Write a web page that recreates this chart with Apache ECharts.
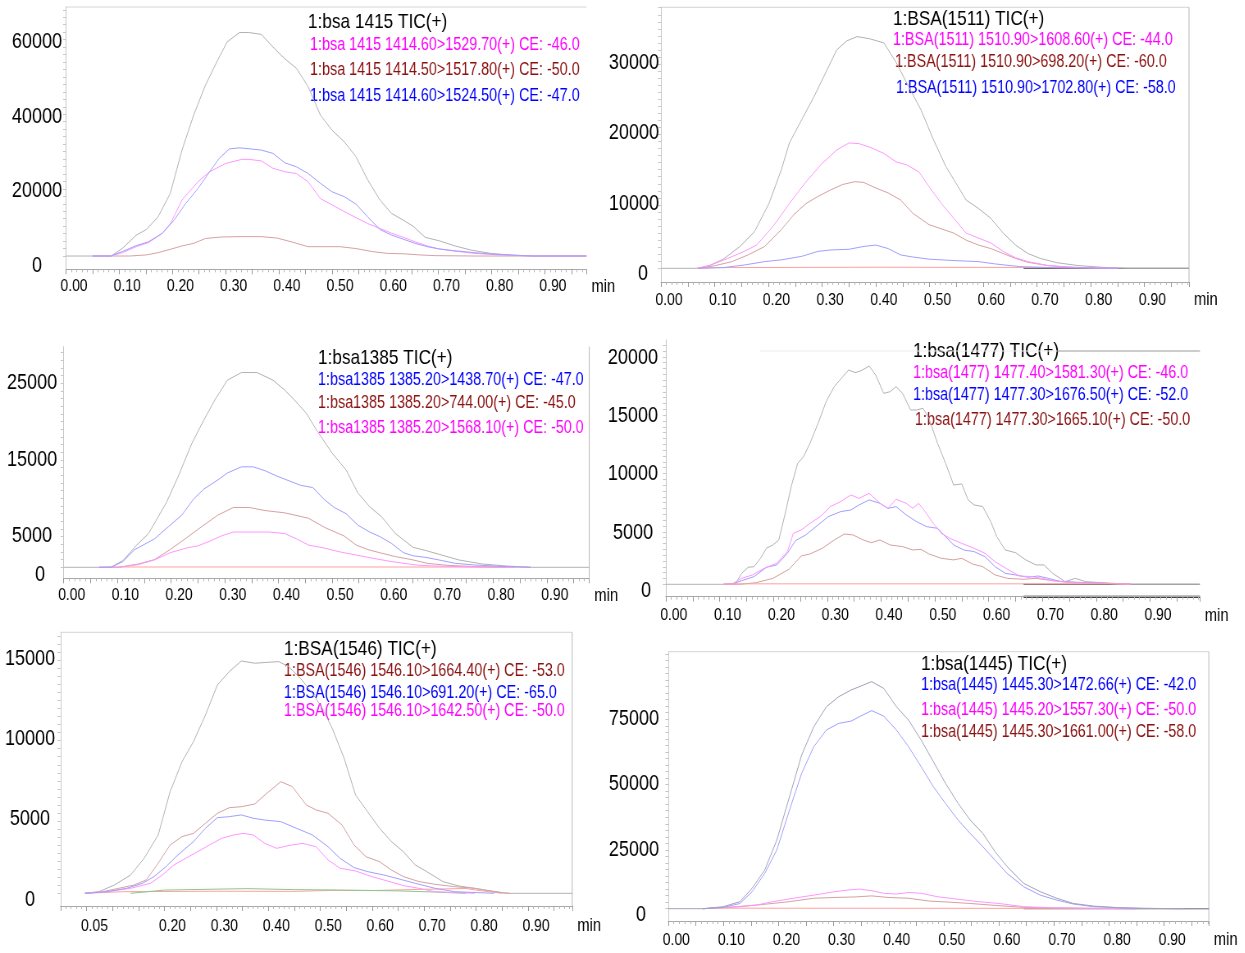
<!DOCTYPE html>
<html>
<head>
<meta charset="utf-8">
<title>BSA peptide MRM chromatograms</title>
<script src="https://cdn.jsdelivr.net/npm/echarts@6/dist/echarts.min.js"></script>
<style>
  html, body { margin: 0; padding: 0; background: #ffffff; overflow: hidden; }
  /* the chart is laid out wide and condensed horizontally, giving narrow instrument-style lettering */
  #chart { height: 953px; transform-origin: 0 0; }
</style>
</head>
<body>
<div id="chart"></div>
<script>
// ---------- tick labels ----------
const tenthLabels = [0, 0.1, 0.2, 0.3, 0.4, 0.5, 0.6, 0.7, 0.8, 0.9];
const bsa1546XLabels = [0.05, 0.2, 0.3, 0.4, 0.5, 0.6, 0.7, 0.8, 0.9];
const bsa1415YLabels = [0, 20000, 40000, 60000];
const bsa1511YLabels = [0, 10000, 20000, 30000];
const bsa1385YLabels = [0, 5000, 15000, 25000];
const bsa1477YLabels = [0, 5000, 10000, 15000, 20000];
const bsa1546YLabels = [0, 5000, 10000, 15000];
const bsa1445YLabels = [0, 25000, 50000, 75000];

// ---------- 1:bsa 1415 ----------
const bsa1415Legend = ['1:bsa 1415 TIC(+)', '1:bsa 1415 1414.60>1529.70(+) CE: -46.0', '1:bsa 1415 1414.50>1517.80(+) CE: -50.0', '1:bsa 1415 1414.60>1524.50(+) CE: -47.0'];
const bsa1415Tic = [[0,0],[0.05,0],[0.085,0],[0.106,2050],[0.132,5600],[0.151,7100],[0.173,10500],[0.196,16800],[0.218,28400],[0.240,37800],[0.262,45800],[0.285,52500],[0.303,57400],[0.326,59900],[0.344,59900],[0.367,59400],[0.389,56000],[0.411,52900],[0.433,50300],[0.455,45400],[0.478,37800],[0.500,33700],[0.523,30600],[0.545,26600],[0.567,20400],[0.590,15000],[0.612,11400],[0.634,9600],[0.653,7900],[0.675,5000],[0.701,4100],[0.731,2700],[0.761,1600],[0.798,700],[0.842,200],[0.88,0],[0.978,0]];
const bsa1415Mz1529 = [[0.05,0],[0.084,0],[0.106,900],[0.132,2500],[0.155,3600],[0.181,6100],[0.196,8600],[0.218,15000],[0.248,19900],[0.270,22600],[0.300,24800],[0.330,25900],[0.344,25900],[0.367,25500],[0.389,23500],[0.411,22600],[0.433,22100],[0.455,19900],[0.478,15400],[0.500,13700],[0.523,11900],[0.545,10300],[0.567,8700],[0.590,7400],[0.612,6100],[0.634,5000],[0.656,3800],[0.679,2700],[0.701,1900],[0.731,1300],[0.768,700],[0.813,300],[0.88,0],[0.978,0]];
const bsa1415Mz1517 = [[0.05,0],[0.12,0],[0.151,300],[0.173,900],[0.196,1800],[0.218,2700],[0.240,3400],[0.262,4700],[0.292,5100],[0.329,5200],[0.367,5200],[0.397,4800],[0.426,3700],[0.455,2500],[0.485,2500],[0.515,2500],[0.545,2000],[0.575,1200],[0.604,700],[0.634,600],[0.664,300],[0.694,100],[0.77,0],[0.978,0]];
const bsa1415Mz1524 = [[0.05,0],[0.084,0],[0.106,1200],[0.132,2800],[0.155,3800],[0.181,6100],[0.203,9600],[0.225,14100],[0.248,18100],[0.270,22600],[0.288,26200],[0.307,28700],[0.326,29000],[0.367,28400],[0.389,27500],[0.411,25000],[0.433,23900],[0.455,22100],[0.478,19500],[0.500,17200],[0.523,15900],[0.545,13900],[0.567,10500],[0.590,7100],[0.612,5600],[0.634,4500],[0.656,3400],[0.679,2500],[0.701,1900],[0.731,1400],[0.768,900],[0.813,400],[0.88,0],[0.978,0]];

// ---------- 1:BSA(1511) ----------
const bsa1511Legend = ['1:BSA(1511) TIC(+)', '1:BSA(1511) 1510.90>1608.60(+) CE: -44.0', '1:BSA(1511) 1510.90>698.20(+) CE: -60.0', '1:BSA(1511) 1510.90>1702.80(+) CE: -58.0'];
const bsa1511Tic = [[0,0],[0.067,0],[0.086,240],[0.116,1300],[0.147,3100],[0.174,5200],[0.201,9200],[0.224,14000],[0.239,17800],[0.262,21100],[0.285,24400],[0.308,28000],[0.327,31000],[0.346,32300],[0.365,32900],[0.388,32600],[0.415,32000],[0.438,29200],[0.461,25800],[0.484,22500],[0.507,18300],[0.530,14500],[0.553,11600],[0.568,9700],[0.591,8500],[0.614,7100],[0.637,5000],[0.660,3300],[0.683,2100],[0.706,1400],[0.737,800],[0.775,400],[0.821,140],[0.867,0],[0.983,0]];
const bsa1511Mz1608 = [[0.067,0],[0.093,470],[0.124,1400],[0.155,2400],[0.178,3300],[0.208,5900],[0.239,9200],[0.270,12300],[0.300,14900],[0.327,16800],[0.350,17800],[0.369,17700],[0.392,17100],[0.415,16300],[0.438,15100],[0.457,14700],[0.480,13700],[0.499,11600],[0.522,9200],[0.545,7100],[0.568,5000],[0.591,4300],[0.614,3600],[0.637,2400],[0.660,1500],[0.683,950],[0.721,380],[0.767,140],[0.851,0]];
const bsa1511Mz698 = [[0.070,0],[0.101,380],[0.132,950],[0.162,1900],[0.193,3100],[0.224,5500],[0.247,7600],[0.270,9200],[0.292,10200],[0.315,11100],[0.338,11900],[0.361,12300],[0.377,12200],[0.400,11400],[0.423,10700],[0.446,9700],[0.469,7800],[0.499,6200],[0.522,5600],[0.545,5000],[0.568,4000],[0.591,3300],[0.614,2800],[0.637,2100],[0.660,1400],[0.683,850],[0.721,380],[0.767,140],[0.851,0]];
const bsa1511Mz1702 = [[0.070,0],[0.116,100],[0.155,470],[0.193,950],[0.224,1200],[0.262,1700],[0.292,2400],[0.315,2600],[0.350,2700],[0.377,3100],[0.400,3300],[0.423,2800],[0.446,1900],[0.469,1600],[0.499,1300],[0.545,1100],[0.591,950],[0.622,620],[0.668,240],[0.729,100],[0.851,0]];
const bsa1511Other = [[0.067,0],[0.1,100],[0.4,150],[0.7,120],[0.8,60],[0.85,0]];
const bsa1511Tail = [[0.675,0],[0.983,0]];

// ---------- 1:bsa1385 ----------
const bsa1385Legend = ['1:bsa1385 TIC(+)', '1:bsa1385 1385.20>1438.70(+) CE: -47.0', '1:bsa1385 1385.20>744.00(+) CE: -45.0', '1:bsa1385 1385.20>1568.10(+) CE: -50.0'];
const bsa1385Tic = [[0,0],[0.066,0],[0.088,0],[0.110,870],[0.136,2900],[0.158,4400],[0.172,6100],[0.191,8400],[0.213,11800],[0.239,16200],[0.261,19200],[0.283,22000],[0.305,24400],[0.331,25400],[0.360,25400],[0.390,24400],[0.412,23100],[0.430,21800],[0.452,20100],[0.471,17900],[0.500,14900],[0.526,12700],[0.548,9700],[0.570,7900],[0.592,6600],[0.618,4400],[0.651,2600],[0.674,2200],[0.699,1700],[0.736,960],[0.780,430],[0.825,170],[0.872,0],[0.979,0]];
const bsa1385Mz1438 = [[0.066,0],[0.088,0],[0.110,740],[0.132,2300],[0.169,3700],[0.195,5300],[0.220,6800],[0.242,8900],[0.261,10200],[0.283,11200],[0.305,12300],[0.331,13100],[0.353,13100],[0.375,12600],[0.397,11900],[0.419,11300],[0.441,10700],[0.464,10400],[0.486,8800],[0.504,7800],[0.526,7000],[0.548,5500],[0.570,4600],[0.589,4000],[0.611,3100],[0.633,1900],[0.651,1500],[0.674,1300],[0.699,960],[0.729,520],[0.766,300],[0.825,90],[0.87,0]];
const bsa1385Mz744 = [[0.066,0],[0.102,0],[0.139,430],[0.169,1000],[0.198,2300],[0.228,3800],[0.257,5300],[0.287,6800],[0.316,7800],[0.346,7800],[0.375,7400],[0.412,7100],[0.456,6400],[0.486,5200],[0.522,4100],[0.545,2900],[0.567,2300],[0.589,1900],[0.618,1400],[0.651,960],[0.677,520],[0.714,260],[0.766,90],[0.825,0]];
const bsa1385Mz1568 = [[0.066,0],[0.102,0],[0.139,350],[0.169,960],[0.198,1900],[0.228,2500],[0.250,2800],[0.272,3400],[0.294,4100],[0.316,4600],[0.339,4600],[0.361,4600],[0.383,4600],[0.412,4400],[0.434,3700],[0.456,2900],[0.486,2500],[0.515,2000],[0.545,1600],[0.574,1200],[0.604,830],[0.633,520],[0.662,260],[0.692,170],[0.766,40],[0.84,0]];
const bsa1385Other = [[0.066,0],[0.09,40],[0.5,40],[0.86,30],[0.87,0]];

// ---------- 1:bsa(1477) ----------
const bsa1477Legend = ['1:bsa(1477) TIC(+)', '1:bsa(1477) 1477.40>1581.30(+) CE: -46.0', '1:bsa(1477) 1477.30>1676.50(+) CE: -52.0', '1:bsa(1477) 1477.30>1665.10(+) CE: -50.0'];
const bsa1477Tic = [[0,0],[0.107,0],[0.130,90],[0.141,940],[0.153,1460],[0.164,1510],[0.176,2230],[0.187,3090],[0.199,3370],[0.210,3800],[0.222,6090],[0.233,8370],[0.245,10370],[0.256,10940],[0.268,12090],[0.283,13800],[0.298,15660],[0.313,16940],[0.329,17800],[0.340,18370],[0.352,18140],[0.363,18310],[0.378,18710],[0.390,17940],[0.405,16370],[0.417,16510],[0.428,16940],[0.440,16370],[0.455,14940],[0.466,14940],[0.478,15090],[0.489,14230],[0.505,12090],[0.520,10370],[0.535,8510],[0.550,8600],[0.562,7230],[0.573,6800],[0.589,6660],[0.604,5370],[0.615,4090],[0.631,2940],[0.650,2710],[0.669,2090],[0.688,1660],[0.703,1660],[0.719,940],[0.742,230],[0.761,510],[0.780,230],[0.810,140],[0.864,0],[0.9925,0]];
const bsa1477Mz1581 = [[0.107,0],[0.122,0],[0.141,510],[0.161,800],[0.183,1370],[0.206,1800],[0.226,2800],[0.237,4370],[0.252,4660],[0.268,5230],[0.287,5800],[0.306,6660],[0.325,7090],[0.344,7660],[0.359,7370],[0.378,7800],[0.398,6940],[0.413,6510],[0.428,7290],[0.447,6940],[0.459,6510],[0.470,6940],[0.482,6230],[0.497,5230],[0.512,4370],[0.528,3940],[0.550,3510],[0.573,3090],[0.593,2660],[0.612,1940],[0.635,1290],[0.657,710],[0.680,660],[0.700,510],[0.719,310],[0.757,140],[0.810,90],[0.864,0]];
const bsa1477Mz1676 = [[0.107,0],[0.122,0],[0.141,310],[0.164,660],[0.187,1460],[0.206,1660],[0.226,2660],[0.241,3740],[0.260,4230],[0.279,4940],[0.302,5800],[0.325,6230],[0.344,6370],[0.359,6800],[0.378,7230],[0.398,6940],[0.413,6510],[0.428,6660],[0.447,5940],[0.466,5370],[0.485,4940],[0.505,4800],[0.520,4090],[0.535,3370],[0.554,2940],[0.573,2800],[0.593,2370],[0.612,1510],[0.631,940],[0.650,800],[0.673,600],[0.692,710],[0.711,510],[0.734,230],[0.765,170],[0.810,90],[0.864,0]];
const bsa1477Mz1665 = [[0.107,0],[0.138,0],[0.168,140],[0.199,510],[0.229,1290],[0.252,2430],[0.268,2600],[0.291,3090],[0.313,3800],[0.332,4310],[0.348,4230],[0.367,3800],[0.382,3570],[0.398,3800],[0.417,3370],[0.440,3230],[0.459,2940],[0.474,3000],[0.489,2600],[0.512,2230],[0.535,2090],[0.550,2230],[0.570,1740],[0.589,1510],[0.612,800],[0.635,510],[0.665,430],[0.688,510],[0.719,310],[0.757,170],[0.810,90],[0.864,0]];
const bsa1477Other = [[0.107,0],[0.115,40],[0.5,40],[0.86,40],[0.864,0]];
const bsa1477Tail = [[0.665,0],[0.9925,0]];

// ---------- 1:BSA(1546) ----------
const bsa1546Legend = ['1:BSA(1546) TIC(+)', '1:BSA(1546) 1546.10>1664.40(+) CE: -53.0', '1:BSA(1546) 1546.10>691.20(+) CE: -65.0', '1:BSA(1546) 1546.10>1642.50(+) CE: -50.0'];
const bsa1546Tic = [[0.047,0],[0.074,100],[0.104,520],[0.135,1140],[0.161,2180],[0.188,3630],[0.211,6330],[0.234,8200],[0.256,9440],[0.279,11100],[0.302,12970],[0.325,13800],[0.348,14460],[0.374,14320],[0.401,14380],[0.420,14420],[0.439,14110],[0.462,13380],[0.485,12450],[0.504,11510],[0.523,10270],[0.546,8400],[0.568,6120],[0.591,5080],[0.614,4050],[0.637,3220],[0.660,2590],[0.683,1760],[0.705,1350],[0.736,730],[0.766,460],[0.797,310],[0.827,150],[0.858,0],[0.985,0]];
const bsa1546Mz1664 = [[0.047,0],[0.081,100],[0.112,310],[0.142,520],[0.165,830],[0.188,1870],[0.211,3010],[0.234,3530],[0.256,3730],[0.279,4360],[0.302,4980],[0.325,5330],[0.348,5390],[0.374,5560],[0.397,6220],[0.424,6950],[0.446,6640],[0.473,5500],[0.492,5190],[0.515,4980],[0.542,4250],[0.565,3010],[0.588,2280],[0.614,1970],[0.637,1450],[0.660,1040],[0.690,730],[0.721,560],[0.759,410],[0.797,310],[0.827,150],[0.850,40],[0.865,0]];
const bsa1546Mz691 = [[0.047,0],[0.089,100],[0.127,310],[0.158,620],[0.180,1040],[0.203,1660],[0.226,2390],[0.256,3220],[0.279,4050],[0.302,4710],[0.325,4770],[0.348,4880],[0.371,4670],[0.393,4560],[0.424,4460],[0.454,4050],[0.485,3630],[0.515,2900],[0.538,2180],[0.565,1600],[0.591,1350],[0.622,1140],[0.652,890],[0.683,620],[0.721,310],[0.759,100],[0.835,0]];
const bsa1546Mz1642 = [[0.047,0],[0.089,100],[0.135,310],[0.173,620],[0.196,1140],[0.218,1760],[0.241,2180],[0.264,2590],[0.287,3010],[0.310,3420],[0.333,3630],[0.352,3730],[0.371,3630],[0.393,3110],[0.416,2800],[0.439,2970],[0.466,3110],[0.492,2900],[0.515,2070],[0.538,1560],[0.568,1390],[0.599,1040],[0.629,770],[0.660,480],[0.690,310],[0.721,100],[0.797,0]];
const bsa1546OtherA = [[0.135,0],[0.2,200],[0.3,260],[0.36,290],[0.45,230],[0.55,200],[0.65,150],[0.72,80],[0.78,0]];
const bsa1546OtherB = [[0.047,0],[0.12,100],[0.3,130],[0.45,120],[0.52,180],[0.6,170],[0.7,250],[0.78,300],[0.8,200],[0.85,0]];

// ---------- 1:bsa(1445) ----------
const bsa1445Legend = ['1:bsa(1445) TIC(+)', '1:bsa(1445) 1445.30>1472.66(+) CE: -42.0', '1:bsa(1445) 1445.20>1557.30(+) CE: -50.0', '1:bsa(1445) 1445.30>1661.00(+) CE: -58.0'];
const bsa1445Tic = [[0,0],[0.063,0],[0.100,770],[0.130,2700],[0.152,7800],[0.175,14800],[0.197,26300],[0.220,42900],[0.242,58800],[0.264,69600],[0.287,77300],[0.309,81100],[0.332,83700],[0.354,85600],[0.369,86900],[0.391,84300],[0.414,77300],[0.436,72200],[0.459,64500],[0.481,56300],[0.503,48000],[0.526,40300],[0.548,33900],[0.571,28800],[0.593,21800],[0.615,16100],[0.645,9700],[0.675,6500],[0.705,4000],[0.735,2000],[0.772,1000],[0.817,380],[0.862,130],[0.937,0],[0.981,0]];
const bsa1445Mz1472 = [[0.063,0],[0.100,510],[0.130,2000],[0.152,6500],[0.175,13500],[0.197,22500],[0.220,37800],[0.242,51800],[0.264,62000],[0.287,68400],[0.309,70900],[0.332,71800],[0.347,73500],[0.369,75800],[0.391,73700],[0.414,68400],[0.436,62000],[0.459,54300],[0.481,46700],[0.503,40300],[0.526,33900],[0.548,28800],[0.571,23700],[0.593,18600],[0.615,13500],[0.645,8400],[0.675,5200],[0.705,3300],[0.735,1800],[0.772,770],[0.817,380],[0.862,130],[0.937,0]];
const bsa1445Mz1557 = [[0.063,0],[0.122,770],[0.160,1400],[0.190,2700],[0.227,4000],[0.264,5200],[0.302,6500],[0.324,7100],[0.347,7500],[0.369,6900],[0.391,5900],[0.414,5600],[0.436,6200],[0.459,5900],[0.488,4600],[0.526,3600],[0.563,2700],[0.600,2000],[0.645,770],[0.697,380],[0.772,130],[0.847,0]];
const bsa1445Mz1661 = [[0.063,0],[0.130,770],[0.175,1700],[0.220,2700],[0.264,4000],[0.302,4300],[0.339,4500],[0.369,4900],[0.399,4300],[0.436,4000],[0.474,2900],[0.511,2500],[0.548,2000],[0.585,1400],[0.645,510],[0.697,260],[0.772,130],[0.847,0]];
const bsa1445Other = [[0.063,0],[0.08,200],[0.5,150],[0.82,100],[0.85,0]];
const bsa1445Tail = [[0.645,0],[0.981,0]];

// ---------- styles ----------
const CONDENSE = 0.82;                 // horizontal squeeze applied to the whole drawing
const PAGE_W = 1245, PAGE_H = 953;
const ux = v => v / CONDENSE;          // page x -> chart x before the squeeze
const FONT = "'Liberation Sans', Arial, sans-serif";
const INK = { black: '#000000', magenta: '#ff00ff', brown: '#8b1010', blue: '#0000ff' };
const TRACE = { tic: '#b2b2b2', ticDark: '#a2a2b8', magenta: '#ff96ff', brown: '#d6a2a2', blue: '#a0a0ff',
                red: '#ffa0a0', green: '#8cc88c', tail: '#6a6a6a' };

// ---------- panel layout (page pixels) ----------
const panels = [
  {
    legend: bsa1415Legend, ink: ['black', 'magenta', 'brown', 'blue'],
    legendX: [308, 310, 310, 310], legendY: [22, 45, 70, 96],
    traces: [[bsa1415Tic, 'tic'], [bsa1415Mz1517, 'brown'], [bsa1415Mz1529, 'magenta'], [bsa1415Mz1524, 'blue']],
    yLabels: bsa1415YLabels, xLabels: tenthLabels, yTickStep: 2000,
    box: { left: 66, top: 7, width: 520.4, height: 262.3 }, xMax: 0.978, yMin: -3560, yMax: 66740,
    yLabelX: 37, zeroNudge: 0, yDrop: 9.7, xDrop: 8.5, frame: ['top']
  },
  {
    legend: bsa1511Legend, ink: ['black', 'magenta', 'brown', 'blue'],
    legendX: [893, 893, 895, 896], legendY: [19, 40, 62, 88],
    traces: [[bsa1511Other, 'red'], [bsa1511Tic, 'tic'], [bsa1511Mz698, 'brown'], [bsa1511Mz1608, 'magenta'], [bsa1511Mz1702, 'blue'], [bsa1511Tail, 'tail']],
    yLabels: bsa1511YLabels, xLabels: tenthLabels, yTickStep: 1000,
    box: { left: 661, top: 7.3, width: 528, height: 274.7 }, xMax: 0.983, yMin: -1945, yMax: 37060,
    yLabelX: 634, zeroNudge: 9, yDrop: 5.6, xDrop: 9.5, frame: ['top', 'right']
  },
  {
    legend: bsa1385Legend, ink: ['black', 'blue', 'brown', 'magenta'],
    legendX: [318, 318, 318, 318], legendY: [358, 380, 403, 428],
    traces: [[bsa1385Other, 'red'], [bsa1385Tic, 'tic'], [bsa1385Mz744, 'brown'], [bsa1385Mz1568, 'magenta'], [bsa1385Mz1438, 'blue']],
    yLabels: bsa1385YLabels, xLabels: tenthLabels, yTickStep: 1000,
    box: { left: 63.7, top: 346.7, width: 525.5, height: 231.6 }, xMax: 0.979, yMin: -1434, yMax: 28770,
    yLabelX: 32, zeroNudge: 8, yDrop: 7.2, xDrop: 8.5, frame: ['right']
  },
  {
    legend: bsa1477Legend, ink: ['black', 'magenta', 'blue', 'brown'],
    legendX: [913, 913, 913, 915], legendY: [351, 373, 395, 420],
    traces: [[bsa1477Tic, 'tic'], [bsa1477Mz1665, 'brown'], [bsa1477Mz1676, 'blue'], [bsa1477Mz1581, 'magenta'], [bsa1477Other, 'red'], [bsa1477Tail, 'tail']],
    yLabels: bsa1477YLabels, xLabels: tenthLabels, yTickStep: 500,
    box: { left: 665.8, top: 340, width: 534, height: 256.7 }, xMax: 0.9925, yMin: -1063, yMax: 20940,
    yLabelX: 633, zeroNudge: 13, yDrop: 6.5, xDrop: 10, frame: [], darkAxisFrom: 0.665
  },
  {
    legend: bsa1546Legend, ink: ['black', 'brown', 'blue', 'magenta'],
    legendX: [284, 284, 284, 284], legendY: [649, 671, 693, 711],
    traces: [[bsa1546OtherB, 'red'], [bsa1546OtherA, 'green'], [bsa1546Tic, 'tic'], [bsa1546Mz1664, 'brown'], [bsa1546Mz1642, 'magenta'], [bsa1546Mz691, 'blue']],
    yLabels: bsa1546YLabels, xLabels: bsa1546XLabels, yTickStep: 500,
    box: { left: 60.5, top: 632.3, width: 511.7, height: 273.7 }, xMax: 0.985, yMin: -790, yMax: 16245,
    yLabelX: 30, zeroNudge: 0, yDrop: 6.4, xDrop: 11.5, frame: ['top', 'right']
  },
  {
    legend: bsa1445Legend, ink: ['black', 'blue', 'magenta', 'brown'],
    legendX: [921, 921, 921, 921], legendY: [664, 685, 710, 732],
    traces: [[bsa1445Other, 'red'], [bsa1445Mz1661, 'brown'], [bsa1445Mz1557, 'magenta'], [bsa1445Mz1472, 'blue'], [bsa1445Tic, 'ticDark'], [bsa1445Tail, 'tail']],
    yLabels: bsa1445YLabels, xLabels: tenthLabels, yTickStep: 2500,
    box: { left: 668.3, top: 651.7, width: 540.5, height: 269.3 }, xMax: 0.981, yMin: -4707, yMax: 98350,
    yLabelX: 634, zeroNudge: 7, yDrop: 6.2, xDrop: 10.5, frame: ['top', 'right']
  }
];

// ---------- build option ----------
const grid = [], xAxis = [], yAxis = [], series = [];

panels.forEach((p, i) => {
  grid.push({ left: ux(p.box.left), top: p.box.top, width: ux(p.box.width), height: p.box.height });

  xAxis.push({
    type: 'value', gridIndex: i, min: 0, max: p.xMax, interval: 0.05,
    splitLine: { show: false },
    axisLine: { show: true, onZero: false, lineStyle: { color: '#a8a8a8', width: 1 } },
    axisTick: { show: true, length: 5, lineStyle: { color: '#9a9a9a' } },
    minorTick: { show: true, splitNumber: 5, length: 3, lineStyle: { color: '#b4b4b4' } },
    axisLabel: {
      customValues: p.xLabels,
      formatter: v => v.toFixed(2),
      fontFamily: FONT, fontSize: 17, color: '#000', margin: p.xDrop,
      padding: [0, 0, 0, ux(16)]
    },
    name: 'min', nameLocation: 'end', nameGap: ux(5),
    nameTextStyle: { fontFamily: FONT, fontSize: 18, color: '#000', verticalAlign: 'top', padding: [p.xDrop, 0, 0, 0] }
  });

  const tickVals = [];
  for (let v = 0; v <= p.yMax; v += p.yTickStep) tickVals.push(v);
  yAxis.push({
    type: 'value', gridIndex: i, min: p.yMin, max: p.yMax,
    splitLine: { show: false },
    axisLine: { show: true, onZero: false, lineStyle: { color: '#c8c8c8', width: 1 } },
    axisTick: { show: true, customValues: tickVals, length: ux(3), lineStyle: { color: '#c8c8c8' } },
    axisLabel: {
      customValues: p.yLabels,
      // the zero label sits a little to the right of the column centre
      formatter: v => (v === 0 ? '{z|0}' : String(v)),
      fontFamily: FONT, fontSize: 22, color: '#000',
      align: 'center', margin: ux(p.box.left - p.yLabelX),
      // labels sit a little below their tick: top-anchored line box, glyphs centred inside it
      verticalAlign: 'top', lineHeight: p.yDrop * 2,
      rich: {
        z: {
          fontFamily: FONT, fontSize: 22, color: '#000', lineHeight: p.yDrop * 2,
          padding: [0, 0, 0, ux(2 * p.zeroNudge)]
        }
      }
    }
  });

  p.traces.forEach(([data, hue]) => {
    series.push({
      type: 'line', xAxisIndex: i, yAxisIndex: i, data: data,
      symbol: 'none', silent: true, animation: false,
      lineStyle: { color: TRACE[hue], width: hue === 'tail' ? 1.2 : 1 },
      z: hue === 'tail' ? 1 : 2
    });
  });
});

const el = document.getElementById('chart');
el.style.width = ux(PAGE_W) + 'px';
el.style.transform = 'scaleX(' + CONDENSE + ')';

const chart = echarts.init(el, null, { renderer: 'canvas', width: ux(PAGE_W), height: PAGE_H });
chart.setOption({
  backgroundColor: '#ffffff',
  animation: false,
  grid, xAxis, yAxis, series
});

// ---------- frames, captions and decorations ----------
const graphic = [];
const hline = (x1, x2, y, stroke, w) => graphic.push({ type: 'line', silent: true, shape: { x1: x1, y1: y, x2: x2, y2: y }, style: { stroke: stroke, lineWidth: w || 1 } });
panels.forEach((p, i) => {
  const b = p.box;
  const L = ux(b.left), R = ux(b.left + b.width), T = b.top, B = b.top + b.height;
  if (p.frame.includes('top')) hline(L, R, T, '#d4d4d4');
  if (p.frame.includes('right')) {
    graphic.push({ type: 'line', silent: true, shape: { x1: R, y1: T, x2: R, y2: B }, style: { stroke: '#b8b8b8', lineWidth: 1 } });
  }
  if (p.darkAxisFrom !== undefined) {
    const a = chart.convertToPixel({ gridIndex: i }, [p.darkAxisFrom, p.yMin]);
    hline(a[0], R, B, '#000000', 2);
  }
  p.legend.forEach((txt, k) => {
    graphic.push({
      type: 'text', silent: true, x: ux(p.legendX[k]), y: p.legendY[k],
      style: {
        text: txt, fill: INK[p.ink[k]], fontFamily: FONT,
        fontSize: k === 0 ? 21 : 17.5, verticalAlign: 'middle', align: 'left'
      }
    });
  });
});
// rule running on from the 1:bsa(1477) TIC caption
hline(ux(760), ux(1057), 351, '#ececec');
hline(ux(1057), ux(1200), 351, '#9a9a9a');

chart.setOption({ graphic: graphic });
</script>
</body>
</html>
